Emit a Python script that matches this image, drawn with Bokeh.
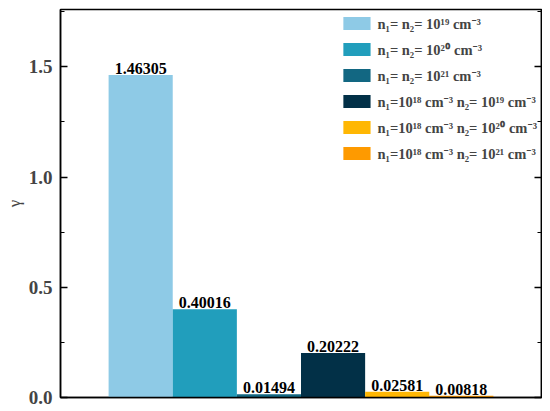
from bokeh.plotting import figure
from bokeh.models import ColumnDataSource, Range1d, LinearAxis, Legend, LegendItem, LabelSet, FixedTicker
from bokeh.embed import file_html
from bokeh.resources import INLINE

labels = ["n\u2081= n\u2082= 10\u00b9\u2079 cm\u207b\u00b3",
          "n\u2081= n\u2082= 10\u00b2\u2070 cm\u207b\u00b3",
          "n\u2081= n\u2082= 10\u00b2\u00b9 cm\u207b\u00b3",
          "n\u2081=10\u00b9\u2078 cm\u207b\u00b3 n\u2082= 10\u00b9\u2079 cm\u207b\u00b3",
          "n\u2081=10\u00b9\u2078 cm\u207b\u00b3 n\u2082= 10\u00b2\u2070 cm\u207b\u00b3",
          "n\u2081=10\u00b9\u2078 cm\u207b\u00b3 n\u2082= 10\u00b2\u00b9 cm\u207b\u00b3"]
positions = [1, 2, 3, 4, 5, 6]
values = [1.46305, 0.40016, 0.01494, 0.20222, 0.02581, 0.00818]
value_text = ["1.46305", "0.40016", "0.01494", "0.20222", "0.02581", "0.00818"]
colors = ["#8ECAE6", "#219EBC", "#126782", "#023047", "#FFB703", "#FE9A00"]
y_ticks = [0.0, 0.5, 1.0, 1.5]
y_minor = [0.25, 0.75, 1.25, 1.75]

FONT = "'Liberation Serif', 'DejaVu Serif', serif"
LEG_FONT = "'Liberation Serif', 'Noto Sans', 'DejaVu Serif', serif"

p = figure(frame_width=481, frame_height=388, output_backend="svg", toolbar_location=None,
           x_range=Range1d(-0.25, 7.25), y_range=Range1d(0, 1.76),
           min_border_left=60, min_border_right=1, min_border_top=9, min_border_bottom=12)
p.grid.visible = False
p.outline_line_color = "black"
p.outline_line_width = 1.5
p.background_fill_color = "white"
p.border_fill_color = "white"

src = ColumnDataSource(dict(x=positions, top=values, color=colors, label=labels, txt=value_text))
renderers = []
for i in range(len(values)):
    r = p.vbar(x=[positions[i]], top=[values[i]], width=1.0, bottom=0,
               fill_color=colors[i], line_color=None)
    renderers.append(r)

ls = LabelSet(x="x", y="top", text="txt", source=src, text_align="center", text_baseline="bottom",
              y_offset=1, text_font=FONT, text_font_style="bold", text_font_size="16px",
              text_color="black")
p.add_layout(ls)

# x axis: no ticks, no labels
xax = p.xaxis[0]
xax.ticker = FixedTicker(ticks=[])
xax.major_tick_line_color = None
xax.minor_tick_line_color = None
xax.axis_line_width = 1.5
xax.axis_line_color = "black"

yax = p.yaxis[0]
yax.ticker = FixedTicker(ticks=y_ticks, minor_ticks=y_minor)
yax.major_tick_in = 7
yax.major_tick_out = 0
yax.minor_tick_in = 4
yax.minor_tick_out = 0
yax.major_tick_line_width = 1.5
yax.minor_tick_line_width = 1.2
yax.axis_line_width = 1.5
yax.major_label_text_font = FONT
yax.major_label_text_font_style = "bold"
yax.major_label_text_font_size = "19px"
yax.major_label_standoff = 8
yax.major_label_overrides = {0.0: "0.0", 0.5: "0.5", 1.0: "1.0", 1.5: "1.5"}
yax.axis_label = "\u03b3"
yax.axis_label_text_font = FONT
yax.axis_label_text_font_style = "normal"
yax.axis_label_text_font_size = "17px"
yax.axis_label_standoff = 2

rax = LinearAxis(ticker=FixedTicker(ticks=y_ticks, minor_ticks=y_minor))
rax.major_tick_in = 7
rax.major_tick_out = 0
rax.minor_tick_in = 4
rax.minor_tick_out = 0
rax.major_tick_line_width = 1.5
rax.minor_tick_line_width = 1.2
rax.axis_line_width = 1.5
rax.major_label_overrides = {0.0: "", 0.5: "", 1.0: "", 1.5: ""}
rax.major_label_standoff = 0
p.add_layout(rax, "right")

items = [LegendItem(label=labels[i], renderers=[renderers[i]]) for i in range(len(values))]
legend = Legend(items=items, location="top_right", border_line_color=None,
                background_fill_alpha=0, margin=4, padding=2,
                glyph_width=34, glyph_height=16, label_height=16, spacing=6,
                label_standoff=4, label_text_font=LEG_FONT, label_text_font_style="bold",
                label_text_font_size="14.5px")
p.add_layout(legend)

open("out.html", "w").write(file_html(p, INLINE))
